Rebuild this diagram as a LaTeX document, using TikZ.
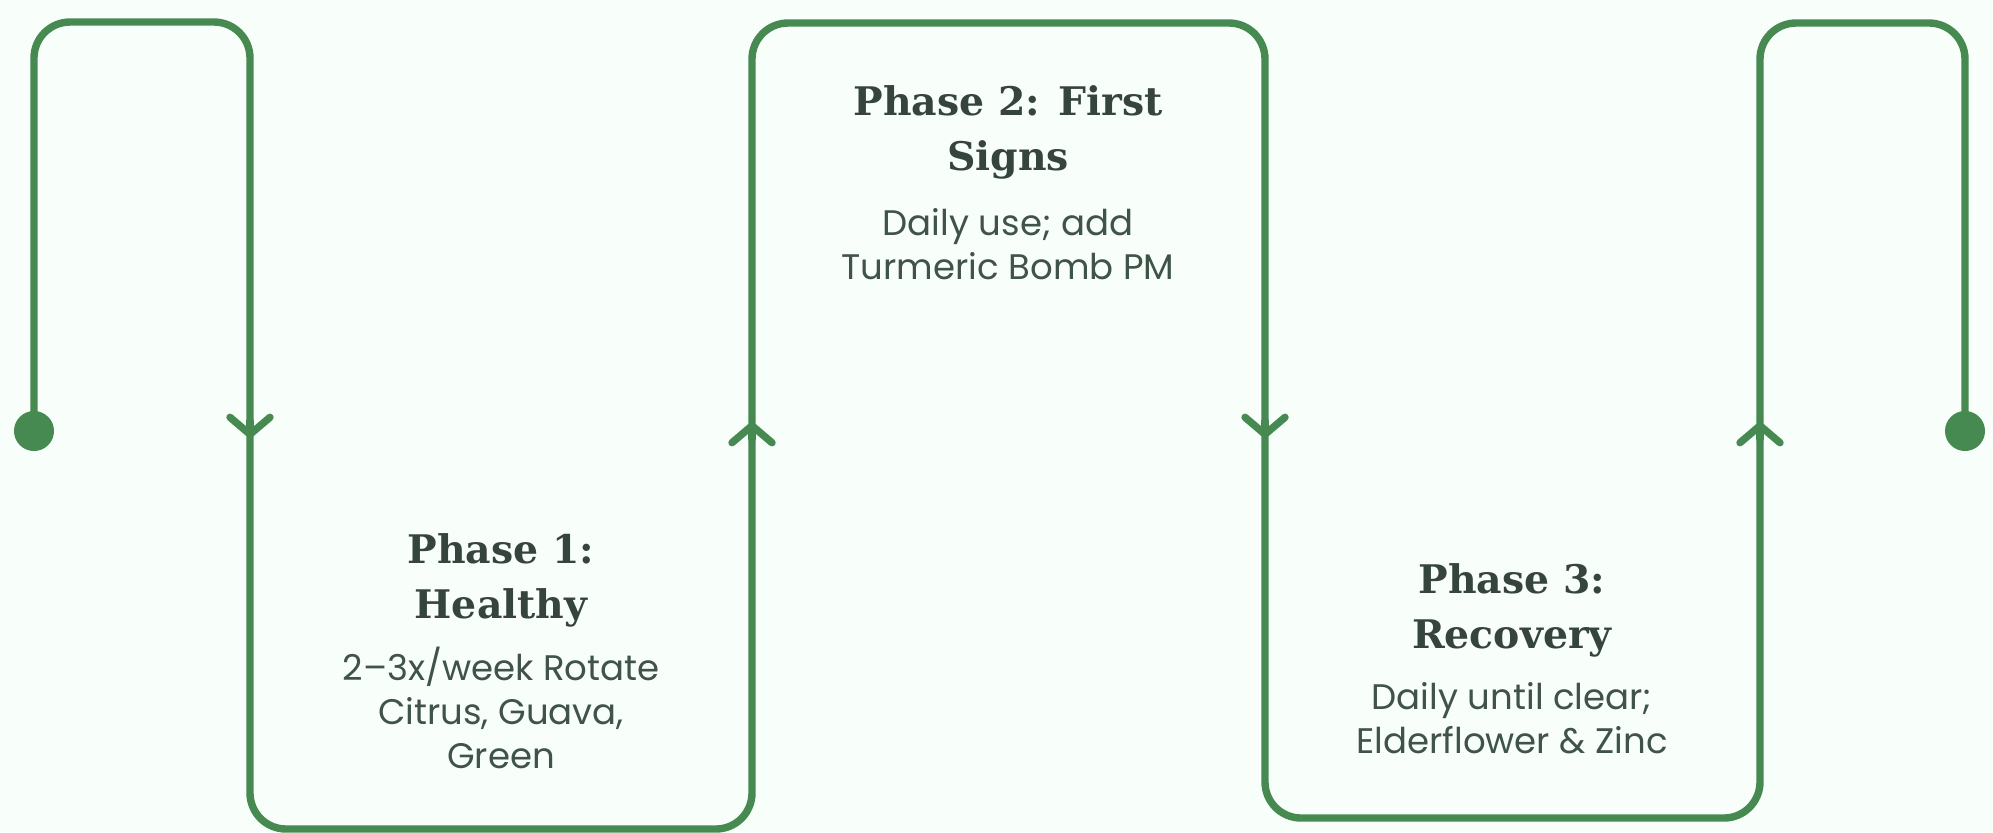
\documentclass[tikz,border=0pt]{standalone}
\usepackage{fontspec}
\setmainfont{Poppins}
\newfontfamily\titlefont{DejaVu Serif}
\usepackage{tikz}
\usetikzlibrary{arrows.meta}

\definecolor{leaf}{HTML}{468A52}
\definecolor{ink}{HTML}{35443C}
\definecolor{bodyink}{HTML}{3F5349}
\definecolor{mint}{HTML}{F8FEF9}

\tikzset{
    trail/.style={draw=leaf, line width=2.1pt, rounded corners=0.36cm},
    chev/.style={draw=leaf, line width=2.1pt, line cap=round,
        -{Straight Barb[length=0.17cm, width=0.40cm, line cap=round, line join=round]}},
    dot/.style={circle, fill=leaf, minimum size=0.4cm, inner sep=0pt},
    phase/.style={font=\titlefont\bfseries\fontsize{11.2}{15.6}\selectfont, text=ink,
        align=center, inner sep=0pt, anchor=base},
    detail/.style={font=\fontsize{10.1}{12.5}\selectfont, text=bodyink,
        align=center, inner sep=0pt, anchor=base}
}

\begin{document}
\begin{tikzpicture}[x=0.01cm, y=-0.01cm]
        \fill[mint] (0,0) rectangle (1993,832);
        \useasboundingbox (0,0) rectangle (1993,832);

        % ends of the trail
        \node[dot] at (34, 431)   (start) {};
        \node[dot] at (1965, 431) (finish) {};

        % corners
        \coordinate (c1)  at (34, 22);
        \coordinate (c2)  at (250, 22);
        \coordinate (c3)  at (250, 829);
        \coordinate (c4)  at (752, 829);
        \coordinate (c5)  at (752, 23);
        \coordinate (c6)  at (1265, 23);
        \coordinate (c7)  at (1265, 818);
        \coordinate (c8)  at (1760, 818);
        \coordinate (c9)  at (1760, 23);
        \coordinate (c10) at (1965, 23);

        \draw[trail] (start.center) -- (c1) -- (c2) -- (c3) -- (c4) -- (c5) -- (c6)
            -- (c7) -- (c8) -- (c9) -- (c10) -- (finish.center);

        % direction marks
        \coordinate (a1) at (250, 421);
        \coordinate (a2) at (752, 439);
        \coordinate (a3) at (1265, 421);
        \coordinate (a4) at (1760, 439);
        \draw[chev] (a1) -- ++(0, 17);
        \draw[chev] (a2) -- ++(0, -17);
        \draw[chev] (a3) -- ++(0, 17);
        \draw[chev] (a4) -- ++(0, -17);

        % phases (base = last line)
        \node[phase] at (501, 618)  (t1) {Phase 1:\\Healthy};
        \node[detail] at (501, 768) (d1) {2--3x/week Rotate\\Citrus, Guava,\\Green};

        \node[phase] at (1008, 170) (t2) {Phase 2: First\\Signs};
        \node[detail] at (1008, 279) (d2) {Daily use; add\\Turmeric Bomb PM};

        \node[phase] at (1512, 648) (t3) {Phase 3:\\Recovery};
        \node[detail] at (1512, 753) (d3) {Daily until clear;\\Elderflower \& Zinc};
\end{tikzpicture}
\end{document}
